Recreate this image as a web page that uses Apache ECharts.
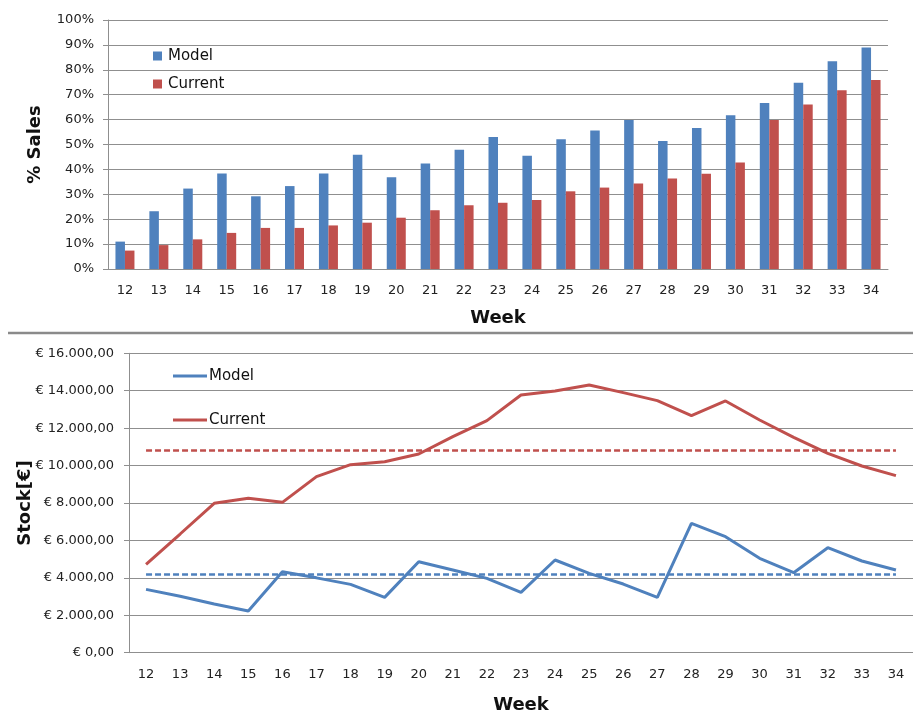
<!DOCTYPE html>
<html>
<head>
<meta charset="utf-8">
<script src="https://cdn.jsdelivr.net/npm/echarts@6/dist/echarts.min.js"></script>
<style>
  html, body { margin: 0; padding: 0; background: #fff; }
  #chart { width: 913px; height: 720px; }
</style>
</head>
<body>
<div id="chart"></div>
<script>
// Weeks shown on both charts
const weeks = ['12','13','14','15','16','17','18','19','20','21','22','23','24','25','26','27','28','29','30','31','32','33','34'];

// Cumulative share of sales (%)
const salesModel   = [11.0, 23.2, 32.3, 38.4, 29.2, 33.3, 38.4, 45.9, 36.8, 42.4, 47.9, 53.0, 45.5, 52.1, 55.6, 59.8, 51.4, 56.6, 61.7, 66.7, 74.8, 83.4, 89.0];
const salesCurrent = [7.4, 9.6, 11.9, 14.5, 16.5, 16.5, 17.5, 18.6, 20.6, 23.6, 25.6, 26.6, 27.7, 31.2, 32.7, 34.3, 36.3, 38.3, 42.8, 59.8, 66.1, 71.8, 75.9];

// Stock value per week (€)
const stockModel   = [3385, 3020, 2600, 2227, 4330, 4000, 3652, 2958, 4864, 4420, 3973, 3225, 4953, 4240, 3670, 2958, 6913, 6200, 5042, 4276, 5612, 4900, 4419];
const stockCurrent = [4721, 6343, 7982, 8249, 8035, 9407, 10049, 10209, 10619, 11545, 12401, 13773, 13986, 14307, 13897, 13470, 12668, 13452, 12436, 11510, 10655, 9978, 9461];

const BLUE = '#4F81BD';
const RED = '#C0504D';
const GRID = '#8f8f8f';
const FONT = 'DejaVu Sans';

const mean = arr => arr.reduce((a, b) => a + b, 0) / arr.length;

function euro(v) {
  const parts = v.toFixed(2).split('.');
  const intPart = parts[0].replace(/\B(?=(\d{3})+(?!\d))/g, '.');
  return '€ ' + intPart + ',' + parts[1];
}

// Dashed reference line at the average, spanning first to last week
function avgLine(data, color) {
  const m = mean(data);
  return {
    symbol: 'none',
    silent: true,
    label: { show: false },
    emphasis: { disabled: true },
    lineStyle: { color: color, type: [6, 3], width: 2.5, opacity: 1 },
    data: [[
      { xAxis: weeks[0], yAxis: m },
      { xAxis: weeks[weeks.length - 1], yAxis: m }
    ]]
  };
}

const chart = echarts.init(document.getElementById('chart'));

const axisText = { fontFamily: FONT, fontSize: 13, color: '#222' };
const nameText = { fontFamily: FONT, fontSize: 18, fontWeight: 'bold', color: '#111' };

chart.setOption({
  animation: false,
  backgroundColor: '#fff',
  grid: [
    { left: 108, top: 20, width: 780, height: 249 },
    { left: 129, top: 353.3, width: 792, height: 299.4 }
  ],
  xAxis: [
    {
      gridIndex: 0, type: 'category', data: weeks,
      name: 'Week', nameLocation: 'middle', nameGap: 40, nameTextStyle: nameText,
      nameMoveOverlap: false,
      axisLine: { lineStyle: { color: GRID, width: 1 } },
      axisTick: { length: 6, lineStyle: { color: GRID } },
      axisLabel: Object.assign({ margin: 15 }, axisText)
    },
    {
      gridIndex: 1, type: 'category', data: weeks,
      name: 'Week', nameLocation: 'middle', nameGap: 44, nameTextStyle: nameText,
      nameMoveOverlap: false,
      axisLine: { lineStyle: { color: GRID, width: 1 } },
      axisTick: { length: 6, lineStyle: { color: GRID } },
      axisLabel: Object.assign({ margin: 15 }, axisText)
    }
  ],
  yAxis: [
    {
      gridIndex: 0, type: 'value', min: 0, max: 100, interval: 10,
      name: '% Sales', nameLocation: 'middle', nameGap: 64, nameTextStyle: nameText,
      nameMoveOverlap: false,
      axisLine: { show: true, lineStyle: { color: GRID } },
      axisTick: { show: true, length: 5, lineStyle: { color: GRID } },
      axisLabel: Object.assign({ margin: 14, formatter: '{value}%' }, axisText),
      splitLine: { lineStyle: { color: GRID, width: 1 } }
    },
    {
      gridIndex: 1, type: 'value', min: 0, max: 16000, interval: 2000,
      name: 'Stock[€]', nameLocation: 'middle', nameGap: 95, nameTextStyle: nameText,
      nameMoveOverlap: false,
      axisLine: { show: true, lineStyle: { color: GRID } },
      axisTick: { show: true, length: 5, lineStyle: { color: GRID } },
      axisLabel: Object.assign({ margin: 15, formatter: euro }, axisText),
      splitLine: { lineStyle: { color: GRID, width: 1 } }
    }
  ],
  legend: [
    {
      left: 148, top: 42, orient: 'vertical', padding: 5,
      icon: 'rect', itemWidth: 9, itemHeight: 9, itemGap: 10,
      textStyle: { fontFamily: FONT, fontSize: 15, color: '#111', lineHeight: 18, padding: [0, 0, 0, 1] },
      data: [
        { name: 'Model', itemStyle: { color: BLUE } },
        { name: 'Current', itemStyle: { color: RED } }
      ],
      selectedMode: false
    },
    {
      left: 168, top: 362, orient: 'vertical', padding: 5,
      icon: 'rect', itemWidth: 34, itemHeight: 3, itemGap: 26,
      textStyle: { fontFamily: FONT, fontSize: 15, color: '#111', lineHeight: 18, padding: [0, 0, 0, -3] },
      data: [
        { name: 'Model', itemStyle: { color: BLUE } },
        { name: 'Current', itemStyle: { color: RED } }
      ],
      selectedMode: false
    }
  ],
  graphic: [
    {
      type: 'line', silent: true,
      shape: { x1: 8, y1: 333, x2: 913, y2: 333 },
      style: { stroke: '#8a8a8a', lineWidth: 2.5 }
    }
  ],
  series: [
    {
      name: 'Model', type: 'bar', xAxisIndex: 0, yAxisIndex: 0,
      data: salesModel, barWidth: 9.5, barGap: '0%',
      itemStyle: { color: BLUE }
    },
    {
      name: 'Current', type: 'bar', xAxisIndex: 0, yAxisIndex: 0,
      data: salesCurrent, barWidth: 9.5, barGap: '0%',
      itemStyle: { color: RED }
    },
    {
      name: 'Model', type: 'line', xAxisIndex: 1, yAxisIndex: 1,
      data: stockModel, symbol: 'none',
      lineStyle: { color: BLUE, width: 3 }, itemStyle: { color: BLUE },
      markLine: avgLine(stockModel, BLUE)
    },
    {
      name: 'Current', type: 'line', xAxisIndex: 1, yAxisIndex: 1,
      data: stockCurrent, symbol: 'none',
      lineStyle: { color: RED, width: 3 }, itemStyle: { color: RED },
      markLine: avgLine(stockCurrent, RED)
    }
  ]
});
</script>
</body>
</html>
